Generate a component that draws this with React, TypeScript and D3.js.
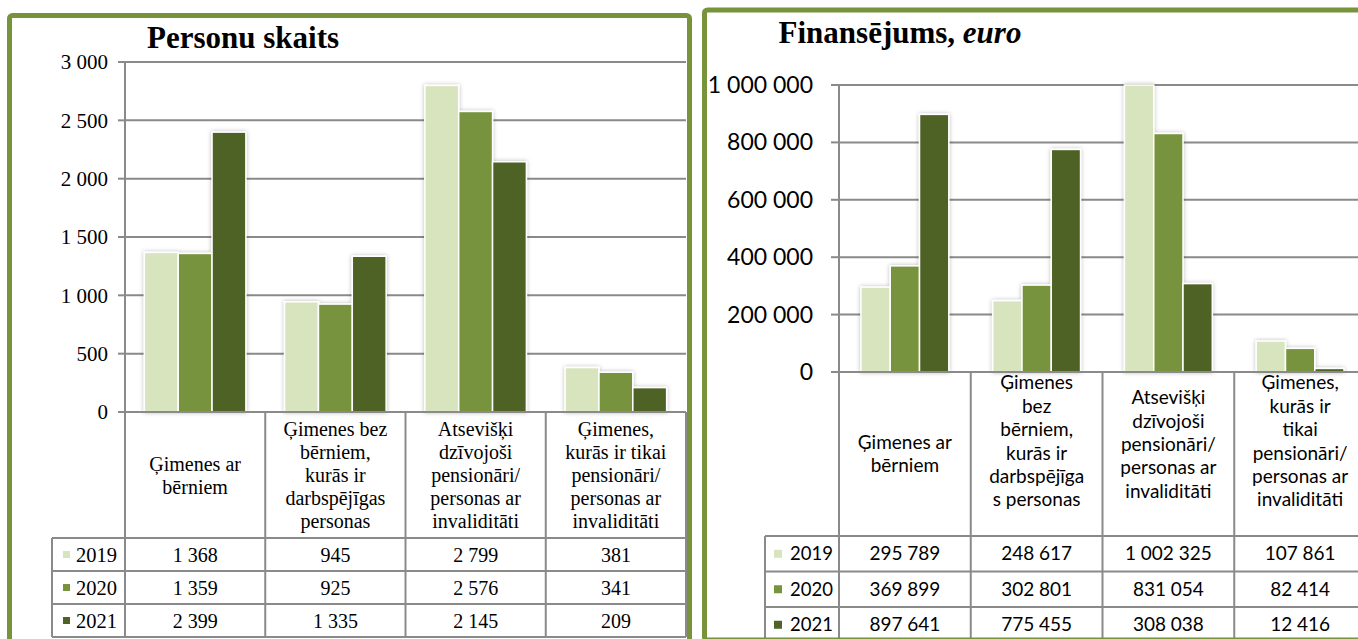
import React from "react";
import * as d3 from "d3";

const seriesNames = ["2019", "2020", "2021"];
const seriesColors = ["#d7e4bd", "#77933c", "#4f6228"];

const personsTitle = "Personu skaits";
const personsCategories = [
  ["Ģimenes ar", "bērniem"],
  ["Ģimenes bez", "bērniem,", "kurās ir", "darbspējīgas", "personas"],
  ["Atsevišķi", "dzīvojoši", "pensionāri/", "personas ar", "invaliditāti"],
  ["Ģimenes,", "kurās ir tikai", "pensionāri/", "personas ar", "invaliditāti"],
];
const persons2019 = [1368, 945, 2799, 381];
const persons2020 = [1359, 925, 2576, 341];
const persons2021 = [2399, 1335, 2145, 209];
const personsTicks = [0, 500, 1000, 1500, 2000, 2500, 3000];

const financeTitle = "Finansējums, ";
const financeTitleItalic = "euro";
const financeCategories = [
  ["Ģimenes ar", "bērniem"],
  ["Ģimenes", "bez", "bērniem,", "kurās ir", "darbspējīga", "s personas"],
  ["Atsevišķi", "dzīvojoši", "pensionāri/", "personas ar", "invaliditāti"],
  ["Ģimenes,", "kurās ir", "tikai", "pensionāri/", "personas ar", "invaliditāti"],
];
const finance2019 = [295789, 248617, 1002325, 107861];
const finance2020 = [369899, 302801, 831054, 82414];
const finance2021 = [897641, 775455, 308038, 12416];
const financeTicks = [0, 200000, 400000, 600000, 800000, 1000000];

const fmt = d3
  .formatLocale({ decimal: ",", thousands: " ", grouping: [3], currency: ["", ""] })
  .format(",d");

type ChartProps = {
  categories: string[][];
  values: number[][];
  ticks: number[];
  plotLeft: number;
  plotRight: number;
  yTop: number;
  yBottom: number;
  rows: number[];
  legendLeft: number;
  gridRight: number;
  tickLen: number;
  labelRight: number;
  fontFamily: string;
  tickFont: number;
  tableFont: number;
  legendFont: number;
  lineHeight: number;
  lineShift: number;
  barOuter: number;
  swatch: number;
  swatchX: number;
  legendTextX: number;
  filterId: string;
  tableBottom: number;
};

const GRID = "#8a8a8a";

function Chart(p: ChartProps) {
  const maxV = d3.max(p.ticks) as number;
  const y = d3.scaleLinear().domain([0, maxV]).range([p.yBottom, p.yTop]);
  const xBand = d3
    .scaleBand<number>()
    .domain(d3.range(p.categories.length))
    .range([p.plotLeft, p.plotRight]);
  const xInner = d3
    .scaleBand<string>()
    .domain(seriesNames)
    .range([0, xBand.bandwidth()])
    .paddingInner(0)
    .paddingOuter(p.barOuter);
  const headerMid = (p.yBottom + p.rows[0]) / 2;
  return (
    <g fontFamily={p.fontFamily} fill="#000">
      {p.ticks.map((t) => (
        <g key={"t" + t}>
          {t > 0 && (
            <line x1={p.plotLeft} x2={p.gridRight} y1={y(t)} y2={y(t)} stroke={GRID} strokeWidth={2} />
          )}
          <line x1={p.plotLeft - p.tickLen} x2={p.plotLeft} y1={y(t)} y2={y(t)} stroke={GRID} strokeWidth={2} />
          <text x={p.labelRight} y={y(t)} dy="0.35em" textAnchor="end" fontSize={p.tickFont}>
            {fmt(t)}
          </text>
        </g>
      ))}
      {p.categories.map((c, i) => (
        <g key={"b" + i} filter={`url(#${p.filterId})`}>
          {seriesNames.map((s, si) => {
            const v = Math.min(p.values[si][i], maxV);
            const x = (xBand(i) as number) + (xInner(s) as number);
            return (
              <rect
                key={s}
                x={x}
                y={y(v)}
                width={xInner.bandwidth()}
                height={p.yBottom - y(v)}
                fill={seriesColors[si]}
                stroke="#fff"
                strokeWidth={1.5}
              />
            );
          })}
        </g>
      ))}
      <line x1={p.plotLeft - p.tickLen} x2={p.plotRight} y1={p.yBottom} y2={p.yBottom} stroke={GRID} strokeWidth={2} />
      <line x1={p.plotLeft} x2={p.plotLeft} y1={p.yTop} y2={p.tableBottom} stroke={GRID} strokeWidth={2} />
      {p.categories.map((c, i) => (
        <line
          key={"v" + i}
          x1={(xBand(i) as number) + xBand.bandwidth()}
          x2={(xBand(i) as number) + xBand.bandwidth()}
          y1={p.yBottom}
          y2={p.tableBottom}
          stroke={GRID}
          strokeWidth={2}
        />
      ))}
      <line x1={p.legendLeft} x2={p.legendLeft} y1={p.rows[0]} y2={p.tableBottom} stroke={GRID} strokeWidth={2} />
      {p.rows.map((r, ri) => (
        <line key={"r" + ri} x1={p.legendLeft} x2={p.plotRight} y1={r} y2={r} stroke={GRID} strokeWidth={2} />
      ))}
      {p.categories.map((c, i) => {
        const cx = (xBand(i) as number) + xBand.bandwidth() / 2;
        const mid = headerMid - Math.max(0, c.length - 2) * p.lineShift;
        return (
          <text key={"h" + i} textAnchor="middle" fontSize={p.tableFont}>
            {c.map((line, li) => (
              <tspan key={li} x={cx} y={mid + (li - (c.length - 1) / 2) * p.lineHeight} dy="0.35em">
                {line}
              </tspan>
            ))}
          </text>
        );
      })}
      {seriesNames.map((s, si) => {
        const cy = (p.rows[si] + p.rows[si + 1]) / 2;
        return (
          <g key={"row" + s}>
            <rect x={p.swatchX} y={cy - p.swatch / 2} width={p.swatch} height={p.swatch} fill={seriesColors[si]} />
            <text x={p.legendTextX} y={cy} dy="0.35em" fontSize={p.legendFont}>
              {s}
            </text>
            {p.categories.map((c, i) => (
              <text
                key={i}
                x={(xBand(i) as number) + xBand.bandwidth() / 2}
                y={cy}
                dy="0.35em"
                textAnchor="middle"
                fontSize={p.tableFont}
              >
                {fmt(p.values[si][i])}
              </text>
            ))}
          </g>
        );
      })}
    </g>
  );
}

export default function App() {
  const W = 1358;
  const H = 639;
  const BORDER = "#77933c";
  return (
    <svg
      width={W}
      height={H}
      viewBox={`0 0 ${W} ${H}`}
      style={{ position: "absolute", left: 0, top: 0, background: "#fff" }}
    >
      <defs>
        <filter id="shL" x="-30%" y="-10%" width="160%" height="120%">
          <feDropShadow dx="0" dy="0" stdDeviation="2" floodColor="#000" floodOpacity="0.28" />
        </filter>
        <filter id="shR" x="-30%" y="-10%" width="160%" height="120%">
          <feDropShadow dx="0" dy="0" stdDeviation="2" floodColor="#000" floodOpacity="0.28" />
        </filter>
      </defs>
      <rect x={0} y={0} width={W} height={H} fill="#fff" />
      <rect x={9.5} y={15.5} width={680} height={660} fill="#fff" />
      <text x={243} y={48} textAnchor="middle" fontFamily="'Liberation Serif', 'Times New Roman', serif" fontWeight="bold" fontSize={31}>
        {personsTitle}
      </text>
      <Chart
        categories={personsCategories}
        values={[persons2019, persons2020, persons2021]}
        ticks={personsTicks}
        plotLeft={125}
        plotRight={686}
        yTop={62}
        yBottom={412}
        rows={[538, 571, 604, 637]}
        tableBottom={637}
        legendLeft={52}
        gridRight={686}
        tickLen={7}
        labelRight={108}
        fontFamily="'Liberation Serif', 'Times New Roman', serif"
        tickFont={21}
        tableFont={20}
        legendFont={20.5}
        lineHeight={23}
        lineShift={0}
        barOuter={0.572}
        swatch={7}
        swatchX={63}
        legendTextX={76}
        filterId="shL"
      />
      <rect x={9.5} y={15.5} width={680} height={660} fill="none" stroke={BORDER} strokeWidth={5} rx={3} />

      <rect x={704.5} y={10} width={680} height={630} fill="#fff" />
      <text x={900} y={43} textAnchor="middle" fontFamily="'Liberation Serif', 'Times New Roman', serif" fontWeight="bold" fontSize={31}>
        {financeTitle}
        <tspan fontStyle="italic">{financeTitleItalic}</tspan>
      </text>
      <Chart
        categories={financeCategories}
        values={[finance2019, finance2020, finance2021]}
        ticks={financeTicks}
        plotLeft={839}
        plotRight={1366}
        yTop={85}
        yBottom={372}
        rows={[536, 571.5, 607, 642.5]}
        tableBottom={642}
        legendLeft={765}
        gridRight={1358}
        tickLen={8}
        labelRight={813}
        fontFamily="Lato, 'Noto Sans', sans-serif"
        tickFont={23}
        tableFont={19}
        legendFont={18.5}
        lineHeight={23.4}
        lineShift={3.2}
        barOuter={0.75}
        swatch={8}
        swatchX={774}
        legendTextX={790}
        filterId="shR"
      />
      <rect x={704.5} y={10} width={680} height={630} fill="none" stroke={BORDER} strokeWidth={5} rx={3} />
    </svg>
  );
}
